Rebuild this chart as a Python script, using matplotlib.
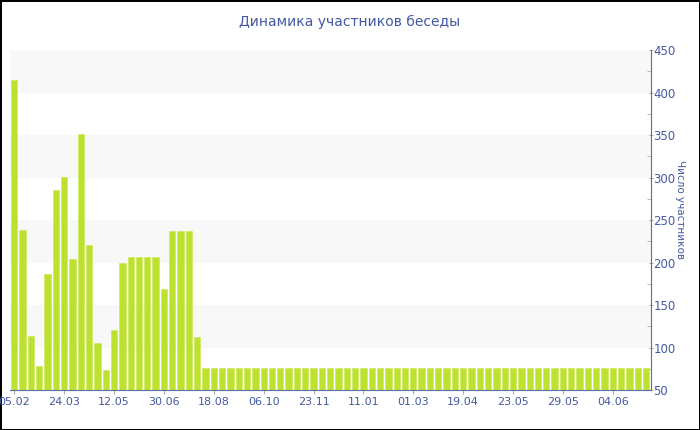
import numpy as np
import matplotlib.pyplot as plt
from matplotlib.ticker import MultipleLocator

# число участников по датам
values = [415, 238, 113, 78, 186, 285, 301, 204, 351, 221, 105, 74, 121,
          200, 206, 206, 206, 206, 169, 237, 237, 237, 112] + [76] * 54
tick_labels = ['05.02', '24.03', '12.05', '30.06', '18.08', '06.10', '23.11',
               '11.01', '01.03', '19.04', '23.05', '29.05', '04.06']
tick_step = 6

txt = '#4459a3'
axc = '#5b6cae'

fig = plt.figure(figsize=(7, 4.3), dpi=100, edgecolor='black', linewidth=2)
ax = fig.add_axes([0.0143, 0.093, 0.9153, 0.7907])

for lo in [100, 200, 300, 400]:
    ax.axhspan(lo, lo + 50, color='#f8f8f8', zorder=0, lw=0)

x = np.arange(len(values))
ax.bar(x, values, width=0.76, color='#bde12f', edgecolor='#cde85e', linewidth=0.5, zorder=2)

ax.set_xlim(-0.52, len(values) - 0.44)
ax.set_ylim(50, 450)
ax.set_xticks(x[::tick_step][:len(tick_labels)])
ax.set_xticklabels(tick_labels)
ax.yaxis.set_major_locator(MultipleLocator(50))
ax.yaxis.set_minor_locator(MultipleLocator(25))
ax.yaxis.tick_right()
ax.yaxis.set_label_position('right')

for s in ['top', 'left']:
    ax.spines[s].set_visible(False)
ax.spines['bottom'].set_color(axc)
ax.spines['right'].set_color(axc)

ax.tick_params(axis='x', colors='#aaaaaa', labelcolor=txt, labelsize=8, length=3, pad=2)
ax.tick_params(axis='y', which='major', colors='#aaaaaa', labelcolor=txt, labelsize=8.5,
               length=3, pad=0.5, direction='inout')
ax.tick_params(axis='y', which='minor', colors='#aaaaaa', length=3, direction='in')

ax.set_ylabel('Число участников', color=txt, fontsize=7.5, rotation=270, va='center')
ax.yaxis.set_label_coords(1.046, 0.53)
fig.suptitle('Динамика участников беседы', color=txt, fontsize=10, y=0.966)

plt.savefig('out.png', dpi=100, edgecolor=fig.get_edgecolor())
